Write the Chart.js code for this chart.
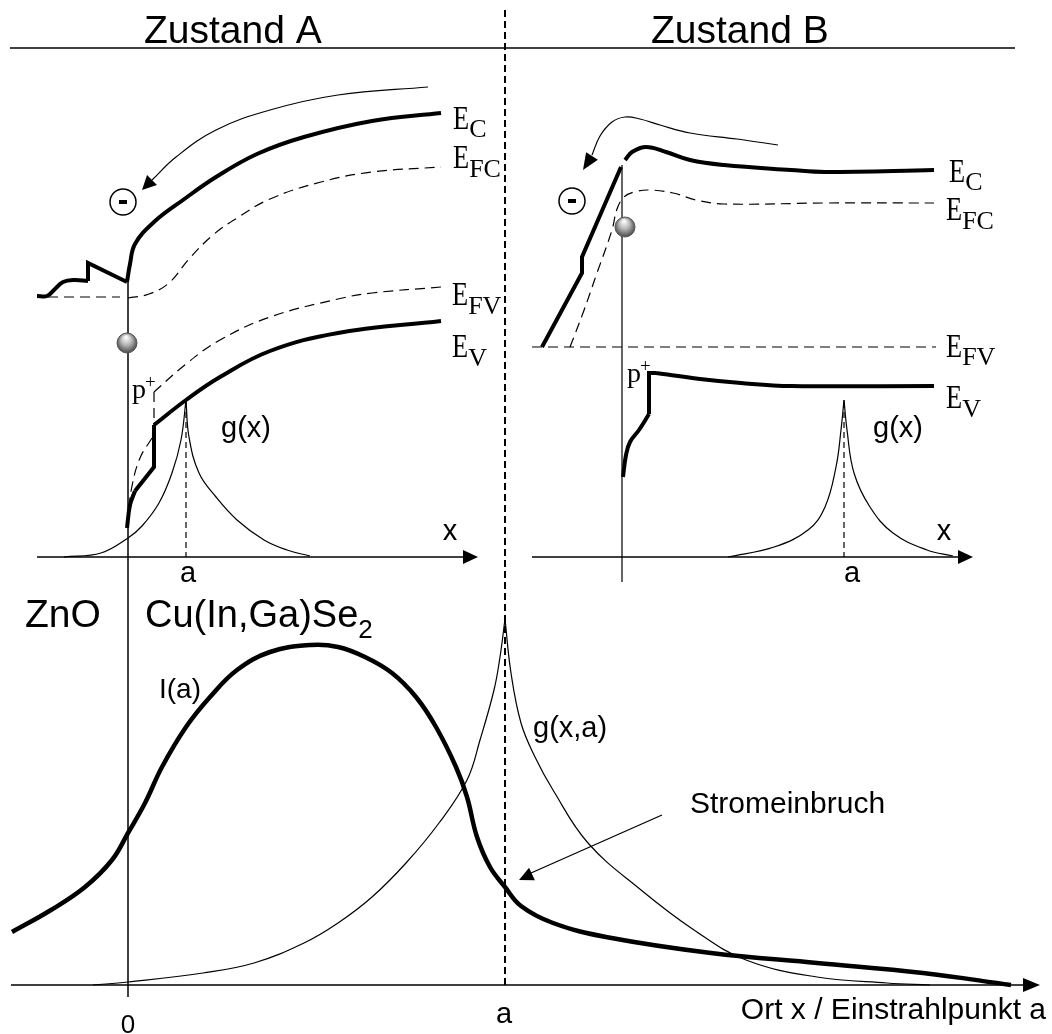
<!DOCTYPE html>
<html>
<head>
<meta charset="utf-8">
<script src="https://cdn.jsdelivr.net/npm/chart.js@4/dist/chart.umd.min.js"></script>
<style>
  body { margin: 0; background: #fff; }
  canvas { display: block; }
</style>
</head>
<body>
<canvas id="bandChart" width="1052" height="1034"></canvas>
<script>
// schematic units: x 0..1052 to the right, y 0..1034 downward

// Zustand A
const ecA_zno = [[37, 296], [47, 296], [55, 289], [63, 282], [74, 280], [88, 281]];
const ecA_step = [[88, 281], [88, 263], [127, 282]];
const ecA = [[127, 282], [130, 264], [135, 244], [154, 222], [183, 200], [216, 177], [257, 154], [304, 137], [372, 121], [441, 113]];
const efcA_zno = [[48, 297], [120, 297]];
const efcA = [[128, 298], [149, 294], [169, 283], [189, 259], [213, 235], [237, 218], [270, 199], [321, 182], [372, 172], [441, 167]];
const efvA = [[441, 287], [372, 293], [338, 299], [270, 317], [220, 340], [186, 364], [154, 392]];
const efvA_step = [[154, 392], [154, 425]];
const efvA_low = [[152, 438], [140, 458], [132, 486], [128, 517]];
const evA = [[441, 321], [338, 333], [270, 351], [220, 377], [186, 400], [154, 425]];
const evA_step = [[154, 425], [154, 467], [135, 491]];
const evA_low = [[135, 491], [130, 505], [127, 528]];
const gA_left = [[64, 557], [101, 553], [128, 538], [142, 526], [159, 503], [172, 473], [181, 440], [186, 400]];
const gA_right = [[186, 400], [189, 437], [199, 473], [216, 497], [237, 520], [264, 540], [287, 550], [310, 556]];
const pathA = [[428, 87], [338, 95], [270, 110], [216, 130], [176, 157], [152, 180]];

// Zustand B
const ecB_left = [[542, 347], [582, 273], [582, 257], [621, 167]];
const ecB = [[625, 160], [632, 152], [646, 147], [666, 152], [690, 160], [724, 165], [791, 170], [825, 172], [934, 170]];
const efcB = [[570, 347], [583, 313], [597, 273], [612, 230], [617, 209], [624, 197], [634, 192], [649, 190], [673, 193], [696, 200], [724, 204], [825, 203], [934, 203]];
const efvB = [[532, 347], [936, 347]];
const evB_low = [[623, 477], [626, 455], [630, 442], [639, 430], [649, 414]];
const evB_step = [[649, 414], [649, 373], [656, 373]];
const evB = [[656, 373], [700, 379], [741, 383], [791, 386], [934, 386]];
const gB_left = [[728, 557], [774, 547], [808, 530], [825, 507], [836, 467], [841, 430], [844, 400]];
const gB_right = [[844, 400], [847, 430], [854, 473], [870, 507], [893, 533], [927, 550], [953, 556]];
const pathB = [[778, 145], [737, 139], [690, 133], [660, 125], [640, 119], [625, 117], [612, 122], [600, 136], [592, 155]];

// unten: Strom I(a) und Generation g(x,a)
const currentI = [[12, 932], [51, 910], [85, 887], [112, 860], [128, 833], [145, 803], [162, 767], [186, 727], [210, 697], [237, 670], [270, 652], [311, 645], [338, 647], [365, 657], [392, 673], [416, 697], [436, 727], [456, 767], [467, 797], [477, 837], [490, 867], [505, 887], [521, 906], [553, 923], [606, 937], [711, 953], [817, 963], [923, 973], [1011, 985]];
const genLeft = [[93, 985], [128, 982], [203, 973], [254, 963], [304, 943], [338, 923], [372, 897], [406, 863], [439, 823], [467, 780], [480, 740], [494, 690], [500, 657], [505, 619]];
const genRight = [[505, 619], [511, 673], [521, 723], [535, 757], [553, 790], [588, 843], [641, 890], [694, 930], [746, 960], [817, 977], [887, 983], [930, 985]];

// Achsen, Grenzflaechen, Hilfslinien
const headerLine = [[10, 48], [1015, 48]];
const splitLine = [[505, 10], [505, 985]];
const axisA = [[37, 557], [466, 557]];
const axisB = [[532, 557], [962, 557]];
const axisMain = [[11, 985], [1026, 985]];
const interfaceA = [[128, 282], [128, 997]];
const interfaceB = [[622, 165], [622, 582]];
const markA = [[186, 402], [186, 557]];
const markB = [[844, 402], [844, 557]];
const strokeArrow = [[662, 815], [531, 873]];

const holes = [[127, 343], [625, 227]];
const electrons = [[123, 202], [572, 201]];

// arrow heads: tip x, tip y, back x, back y
const heads = [
  [142, 190, 152, 180], [583, 170, 592, 156], [519, 880, 532, 874],
  [478, 557, 463, 557], [973, 557, 958, 557], [1040, 985, 1023, 985]
];

const sans = '"Liberation Sans", Arial, sans-serif';
const serif = '"Liberation Serif", "Times New Roman", serif';

const texts = [
  { t: 'Zustand A', x: 144, y: 43, f: '39px ' + sans },
  { t: 'Zustand B', x: 651, y: 43, f: '39px ' + sans },
  { t: 'E', sub: 'C', x: 453, y: 129, sy: 137 },
  { t: 'E', sub: 'FC', x: 453, y: 168, sy: 177 },
  { t: 'E', sub: 'FV', x: 452, y: 305, sy: 314 },
  { t: 'E', sub: 'V', x: 452, y: 357, sy: 366 },
  { t: 'E', sub: 'C', x: 949, y: 182, sy: 190 },
  { t: 'E', sub: 'FC', x: 946, y: 220, sy: 229 },
  { t: 'E', sub: 'FV', x: 946, y: 357, sy: 365 },
  { t: 'E', sub: 'V', x: 946, y: 408, sy: 417 },
  { t: 'p', sup: '+', x: 132, y: 398, sy: 388 },
  { t: 'p', sup: '+', x: 627, y: 382, sy: 372 },
  { t: 'g(x)', x: 221, y: 437, f: '29px ' + sans },
  { t: 'g(x)', x: 873, y: 437, f: '29px ' + sans },
  { t: 'x', x: 450, y: 540, f: '29px ' + sans, a: 'center' },
  { t: 'x', x: 944, y: 540, f: '29px ' + sans, a: 'center' },
  { t: 'a', x: 188, y: 582, f: '29px ' + sans, a: 'center' },
  { t: 'a', x: 852, y: 582, f: '29px ' + sans, a: 'center' },
  { t: 'ZnO', x: 25, y: 627, f: '39px ' + sans },
  { t: 'Cu(In,Ga)Se', sub: '2', x: 145, y: 627, sy: 638, f: '38px ' + sans, sf: '26px ' + sans },
  { t: 'I(a)', x: 159, y: 698, f: '28px ' + sans },
  { t: 'g(x,a)', x: 533, y: 737, f: '29px ' + sans },
  { t: 'Stromeinbruch', x: 690, y: 813, f: '30px ' + sans },
  { t: '0', x: 128, y: 1033, f: '26px ' + sans, a: 'center' },
  { t: 'a', x: 504, y: 1023, f: '29px ' + sans, a: 'center' },
  { t: 'Ort x / Einstrahlpunkt a', x: 1046, y: 1019, f: '30px ' + sans, a: 'right' }
];

function line(pts, opts) {
  return Object.assign({
    data: pts.map(([x, y]) => ({ x, y })),
    showLine: true,
    pointRadius: 0,
    borderColor: '#000',
    borderWidth: 1.2,
    tension: 0,
    fill: false
  }, opts);
}

const thick = { borderWidth: 4 };
const thickSmooth = { borderWidth: 4, tension: 0.4 };
const thin = { borderWidth: 1.2, tension: 0.4 };
const dash = { borderWidth: 1.2, borderDash: [10, 6], tension: 0.4 };

const drawExtras = {
  id: 'drawExtras',
  afterDatasetsDraw(chart) {
    const ctx = chart.ctx;
    const sx = chart.scales.x, sy = chart.scales.y;
    const px = v => sx.getPixelForValue(v);
    const py = v => sy.getPixelForValue(v);
    ctx.save();

    // Loecher mit Schattierung
    holes.forEach(([hx, hy]) => {
      const x = px(hx), y = py(hy);
      const g = ctx.createRadialGradient(x - 1, y - 6, 1, x, y, 11);
      g.addColorStop(0, '#fafafa');
      g.addColorStop(0.45, '#b4b4b4');
      g.addColorStop(1, '#3c3c3c');
      ctx.beginPath();
      ctx.arc(x, y, 10, 0, Math.PI * 2);
      ctx.fillStyle = g;
      ctx.fill();
      ctx.lineWidth = 1;
      ctx.strokeStyle = '#555';
      ctx.stroke();
    });

    ctx.fillStyle = '#000';
    heads.forEach(([tx, ty, bx, by]) => {
      const x0 = px(tx), y0 = py(ty), x1 = px(bx), y1 = py(by);
      const len = Math.hypot(x1 - x0, y1 - y0);
      const ux = (x1 - x0) / len, uy = (y1 - y0) / len;
      const hw = 7;
      ctx.beginPath();
      ctx.moveTo(x0, y0);
      ctx.lineTo(x1 - uy * hw, y1 + ux * hw);
      ctx.lineTo(x1 + uy * hw, y1 - ux * hw);
      ctx.closePath();
      ctx.fill();
    });

    electrons.forEach(([ex, ey]) => {
      ctx.fillRect(px(ex) - 4, py(ey) - 2, 8, 4);
    });

    ctx.textBaseline = 'alphabetic';
    texts.forEach(o => {
      const x = px(o.x), y = py(o.y);
      if (o.sub === undefined && o.sup === undefined && o.f) {
        ctx.font = o.f;
        ctx.textAlign = o.a || 'left';
        ctx.fillText(o.t, x, y);
        return;
      }
      ctx.textAlign = 'left';
      let w;
      if (o.f) {
        ctx.font = o.f;
        ctx.fillText(o.t, x, y);
        w = ctx.measureText(o.t).width;
      } else if (o.sup) {
        ctx.font = '28px ' + serif;
        ctx.fillText(o.t, x, y);
        w = ctx.measureText(o.t).width;
      } else {
        ctx.font = '33px ' + serif;
        ctx.save();
        ctx.translate(x, y);
        ctx.scale(0.8, 1);
        ctx.fillText(o.t, 0, 0);
        ctx.restore();
        w = ctx.measureText(o.t).width * 0.8;
      }
      if (o.sub) {
        ctx.font = o.sf || ('26px ' + serif);
        ctx.fillText(o.sub, x + w, py(o.sy));
      } else {
        ctx.font = '19px ' + serif;
        ctx.fillText(o.sup, x + w - 1, py(o.sy));
      }
    });
    ctx.restore();
  }
};

const ctx = document.getElementById('bandChart');

new Chart(ctx, {
  type: 'scatter',
  data: {
    datasets: [
      line(headerLine, { borderWidth: 1.5 }),
      line(splitLine, { borderWidth: 2, borderDash: [7, 4] }),
      line(axisA, { borderWidth: 1.5 }),
      line(axisB, { borderWidth: 1.5 }),
      line(axisMain, { borderWidth: 1.5 }),
      line(interfaceA, { borderWidth: 1.5 }),
      line(interfaceB, { borderWidth: 1.2 }),
      line(markA, { borderWidth: 1.2, borderDash: [6, 4] }),
      line(markB, { borderWidth: 1.2, borderDash: [6, 4] }),

      line(ecA_zno, thickSmooth),
      line(ecA_step, thick),
      line(ecA, thickSmooth),
      line(efcA_zno, { borderWidth: 1.2, borderDash: [10, 6] }),
      line(efcA, dash),
      line(efvA, dash),
      line(efvA_step, { borderWidth: 1.2, borderDash: [10, 6] }),
      line(efvA_low, dash),
      line(evA, thickSmooth),
      line(evA_step, thick),
      line(evA_low, thickSmooth),
      line(gA_left, thin),
      line(gA_right, thin),
      line(pathA, thin),

      line(ecB_left, thick),
      line(ecB, thickSmooth),
      line(efcB, dash),
      line(efvB, { borderWidth: 1.2, borderDash: [10, 6] }),
      line(evB_low, thickSmooth),
      line(evB_step, thick),
      line(evB, thickSmooth),
      line(gB_left, thin),
      line(gB_right, thin),
      line(pathB, thin),

      line(genLeft, thin),
      line(genRight, thin),
      line(currentI, { borderWidth: 4.5, tension: 0.4 }),
      line(strokeArrow, { borderWidth: 1.3 }),

      {
        data: electrons.map(([x, y]) => ({ x, y })),
        pointRadius: 13,
        pointBackgroundColor: '#fff',
        pointBorderColor: '#000',
        pointBorderWidth: 1.5
      }
    ]
  },
  options: {
    responsive: false,
    animation: false,
    events: [],
    layout: { padding: 0, autoPadding: false },
    plugins: {
      legend: { display: false },
      tooltip: { enabled: false }
    },
    scales: {
      x: { type: 'linear', min: 0, max: 1052, display: false },
      y: { type: 'linear', min: 0, max: 1034, reverse: true, display: false }
    }
  },
  plugins: [drawExtras]
});
</script>
</body>
</html>
